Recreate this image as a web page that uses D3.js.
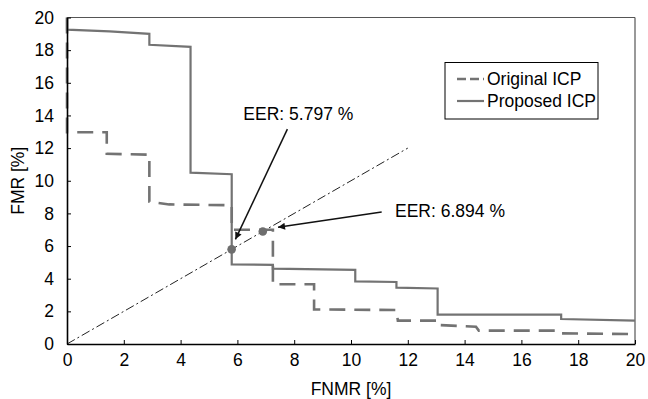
<!DOCTYPE html>
<html><head><meta charset="utf-8">
<script src="https://cdn.jsdelivr.net/npm/d3@7"></script>
<style>
body{margin:0;background:#fff;}
text{font-family:"Liberation Sans",Arial,sans-serif;}
</style></head>
<body><svg id="c" width="648" height="399"></svg>
<script>
const xTicks = [0,2,4,6,8,10,12,14,16,18,20];
const yTicks = [0,2,4,6,8,10,12,14,16,18,20];
const seriesNames = ["Original ICP","Proposed ICP"];
const originalFNMR = [0,0,1.4,1.4,2.9,2.9,3.6,5.8,5.8,7.25,7.25,8.7,8.7,11.6,11.65,13.0,13.0,14.4,14.5,17.3,17.35,20];
const originalFMR  = [20,12.97,12.97,11.65,11.6,8.72,8.55,8.5,7.0,7.0,3.66,3.66,2.12,2.08,1.43,1.43,1.17,1.06,0.82,0.82,0.65,0.61];
const proposedFNMR = [0,0,1.5,2.9,2.9,4.35,4.35,5.8,5.8,7.25,7.25,10.15,10.15,11.6,11.6,13.05,13.05,17.4,17.4,20];
const proposedFMR  = [20,19.26,19.15,19.0,18.33,18.2,10.5,10.4,4.88,4.85,4.62,4.54,3.84,3.8,3.45,3.4,1.8,1.8,1.53,1.43];
const eerValues = [5.797, 6.894];
const eerLabels = ["EER: 5.797 %","EER: 6.894 %"];
const diagMax = 12;

const svg = d3.select("#c");
const x = d3.scaleLinear().domain([0,20]).range([67,635]);
const y = d3.scaleLinear().domain([0,20]).range([344,17.5]);
const grey = "#737373";

// frame top/right
svg.append("line").attr("x1",x(0)).attr("x2",x(20)).attr("y1",y(20)).attr("y2",y(20)).attr("stroke","#555").attr("stroke-width",1.2);
svg.append("line").attr("x1",x(20)).attr("x2",x(20)).attr("y1",y(0)).attr("y2",y(20)).attr("stroke","#555").attr("stroke-width",1.2);

// diagonal
svg.append("line").attr("x1",x(0)).attr("y1",y(0)).attr("x2",x(diagMax)).attr("y2",y(diagMax))
  .attr("stroke","#222").attr("stroke-width",1).attr("stroke-dasharray","9,3,2,3");

const line = d3.line().x(d=>x(d[0])).y(d=>y(d[1]));
const orig = originalFNMR.map((v,i)=>[v,originalFMR[i]]);
const prop = proposedFNMR.map((v,i)=>[v,proposedFMR[i]]);
svg.append("path").attr("d",line(prop)).attr("fill","none").attr("stroke",grey).attr("stroke-width",2.2);
svg.append("path").attr("d",line(orig)).attr("fill","none").attr("stroke",grey).attr("stroke-width",2.6).attr("stroke-dasharray","16,9");

// axes
const xAxis = d3.axisBottom(x).tickValues(xTicks).tickSizeInner(-4).tickSizeOuter(0).tickPadding(10);
const yAxis = d3.axisLeft(y).tickValues(yTicks).tickSizeInner(-4).tickSizeOuter(0).tickPadding(13);
const gx = svg.append("g").attr("transform",`translate(0,${y(0)})`).call(xAxis);
const gy = svg.append("g").attr("transform",`translate(${x(0)},0)`).call(yAxis);
[gx,gy].forEach(g=>{
  g.select(".domain").attr("stroke","#000").attr("stroke-width",1.6);
  g.selectAll(".tick line").attr("stroke","#000").attr("stroke-width",1);
  g.selectAll(".tick text").attr("font-size",17.5).attr("fill","#000").style("font-family","'Liberation Sans',Arial,sans-serif");
});
gx.selectAll(".tick text").attr("dy","0.71em");

svg.append("text").attr("x",(x(0)+x(20))/2).attr("y",395).attr("text-anchor","middle")
  .attr("font-size",17.5).text("FNMR [%]");
svg.append("text").attr("transform",`translate(24,${(y(0)+y(20))/2}) rotate(-90)`).attr("text-anchor","middle")
  .attr("font-size",17.5).text("FMR [%]");

// EER points
svg.selectAll("circle.eer").data(eerValues).join("circle").attr("class","eer")
  .attr("cx",d=>x(d)).attr("cy",d=>y(d)).attr("r",4.3).attr("fill","#6e6e6e");

// arrows
const defs = svg.append("defs");
defs.append("marker").attr("id","ah").attr("viewBox","0 0 10 10").attr("refX",10).attr("refY",5)
  .attr("markerWidth",11).attr("markerHeight",7).attr("markerUnits","userSpaceOnUse").attr("orient","auto")
  .append("path").attr("d","M0,0 L10,5 L0,10 z").attr("fill","#111");
const ann = [
  {label:eerLabels[0], tx:6.21, ty:13.7, from:[7.76,13.16], to:[5.93,6.41]},
  {label:eerLabels[1], tx:11.55, ty:7.75, from:[11.08,8.08], to:[7.43,7.15]}
];
ann.forEach(a=>{
  svg.append("line").attr("x1",x(a.from[0])).attr("y1",y(a.from[1])).attr("x2",x(a.to[0])).attr("y2",y(a.to[1]))
    .attr("stroke","#111").attr("stroke-width",1.5).attr("marker-end","url(#ah)");
  svg.append("text").attr("x",x(a.tx)).attr("y",y(a.ty)).attr("font-size",17.5).text(a.label);
});

// legend
const lg = svg.append("g").attr("transform","translate(445,62.5)");
lg.append("rect").attr("width",153).attr("height",56.5).attr("fill","#fff").attr("stroke","#000").attr("stroke-width",1);
seriesNames.forEach((n,i)=>{
  const yy = 22.5 + i*22;
  lg.append("line").attr("x1",12).attr("x2",39).attr("y1",yy-6).attr("y2",yy-6)
    .attr("stroke",grey).attr("stroke-width",i===0?2.6:2.2).attr("stroke-dasharray",i===0?"9,4":null);
  lg.append("text").attr("x",42).attr("y",yy).attr("font-size",17.5).text(n);
});
</script></body></html>
